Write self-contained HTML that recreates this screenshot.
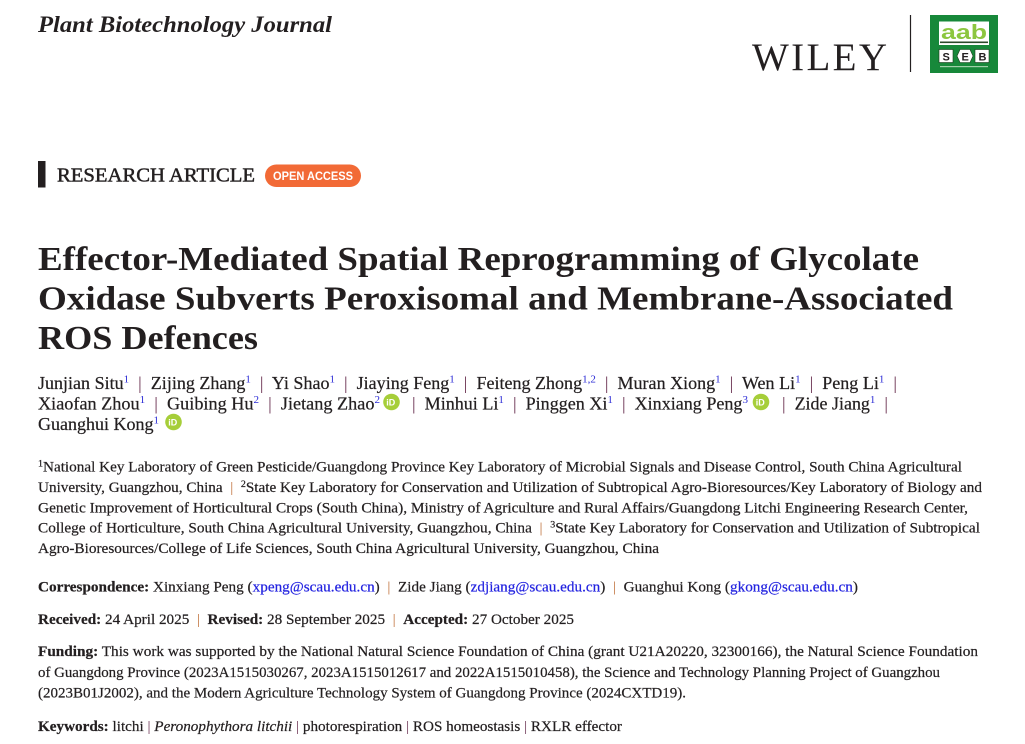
<!DOCTYPE html>
<html><head><meta charset="utf-8">
<style>
html,body{margin:0;padding:0;background:#fff;}
svg{display:block;}
text{font-family:"Liberation Serif",serif;fill:#231f20;white-space:pre;}
.w{stroke:#231f20;stroke-width:0.22;}
.sup{fill:#2b2bd6;stroke:none;}
.sep{fill:#6a3050;stroke:none;}
.osep{fill:#c0703a;stroke:none;}
.b{font-weight:bold;}
.lnk{fill:#2323e0;stroke:#2323e0;}
.sans{font-family:"Liberation Sans",sans-serif;}
</style></head><body>
<svg width="1025" height="744" viewBox="0 0 1025 744" xmlns="http://www.w3.org/2000/svg">
<rect width="1025" height="744" fill="#fff"/>

<!-- Journal name -->
<text x="38" y="32" font-size="23" font-weight="bold" font-style="italic" textLength="294" lengthAdjust="spacingAndGlyphs">Plant Biotechnology Journal</text>

<!-- WILEY -->
<text x="752" y="70" font-size="39" textLength="135" lengthAdjust="spacing">WILEY</text>
<line x1="910.5" y1="15" x2="910.5" y2="72" stroke="#231f20" stroke-width="1.2"/>

<!-- Logo -->
<rect x="930" y="15" width="68" height="58" fill="#17883a"/>
<rect x="939" y="21.5" width="50" height="23.5" fill="#fff"/>
<text class="sans" x="941" y="39" font-size="20" font-weight="bold" textLength="46" lengthAdjust="spacingAndGlyphs" style="fill:#8cc63f">aab</text>
<rect x="940" y="41.5" width="48" height="1.6" fill="#2a4a2a"/>
<rect x="939" y="49.5" width="14" height="13" fill="#fff" stroke="#1a3a1a" stroke-width="0.6"/>
<polygon points="957,56 960,49.5 970,49.5 973,56 970,62.5 960,62.5" fill="#fff" stroke="#1a3a1a" stroke-width="0.6"/>
<rect x="975" y="49.5" width="14" height="13" fill="#fff" stroke="#1a3a1a" stroke-width="0.6"/>
<text class="sans" x="942.5" y="60.5" font-size="11" font-weight="bold">S</text>
<text class="sans" x="961.5" y="60.5" font-size="11" font-weight="bold">E</text>
<text class="sans" x="978.5" y="60.5" font-size="11" font-weight="bold">B</text>
<rect x="940" y="66" width="48" height="1.2" fill="#9fd0a8"/>

<!-- Research article -->
<rect x="38" y="161" width="7.5" height="26.5" fill="#231f20"/>
<text x="57" y="181.5" font-size="20.5" textLength="198" lengthAdjust="spacingAndGlyphs" stroke="#231f20" stroke-width="0.5">RESEARCH ARTICLE</text>
<rect x="265" y="164.5" width="96" height="22.5" rx="11.25" fill="#f26a36"/>
<text class="sans" x="273" y="180" font-size="12" font-weight="bold" textLength="80" lengthAdjust="spacingAndGlyphs" style="fill:#fff">OPEN ACCESS</text>

<!-- Title -->
<text x="38" y="270" font-size="34" font-weight="bold" textLength="881" lengthAdjust="spacingAndGlyphs">Effector-Mediated Spatial Reprogramming of Glycolate</text>
<text x="38" y="309.5" font-size="34" font-weight="bold" textLength="915" lengthAdjust="spacingAndGlyphs">Oxidase Subverts Peroxisomal and Membrane-Associated</text>
<text x="38" y="349" font-size="34" font-weight="bold" textLength="220" lengthAdjust="spacingAndGlyphs">ROS Defences</text>

<!-- Authors -->
<text class="w" x="38" y="389" font-size="18" textLength="859" lengthAdjust="spacingAndGlyphs">Junjian Situ<tspan class="sup" font-size="11" dy="-6.5">1</tspan><tspan class="sep" dy="6.5">  |  </tspan>Zijing Zhang<tspan class="sup" font-size="11" dy="-6.5">1</tspan><tspan class="sep" dy="6.5">  |  </tspan>Yi Shao<tspan class="sup" font-size="11" dy="-6.5">1</tspan><tspan class="sep" dy="6.5">  |  </tspan>Jiaying Feng<tspan class="sup" font-size="11" dy="-6.5">1</tspan><tspan class="sep" dy="6.5">  |  </tspan>Feiteng Zhong<tspan class="sup" font-size="11" dy="-6.5">1,2</tspan><tspan class="sep" dy="6.5">  |  </tspan>Muran Xiong<tspan class="sup" font-size="11" dy="-6.5">1</tspan><tspan class="sep" dy="6.5">  |  </tspan>Wen Li<tspan class="sup" font-size="11" dy="-6.5">1</tspan><tspan class="sep" dy="6.5">  |  </tspan>Peng Li<tspan class="sup" font-size="11" dy="-6.5">1</tspan><tspan class="sep" dy="6.5">  |</tspan></text>

<text class="w" x="38" y="409.5" font-size="18" textLength="342" lengthAdjust="spacingAndGlyphs">Xiaofan Zhou<tspan class="sup" font-size="11" dy="-6.5">1</tspan><tspan class="sep" dy="6.5">  |  </tspan>Guibing Hu<tspan class="sup" font-size="11" dy="-6.5">2</tspan><tspan class="sep" dy="6.5">  |  </tspan>Jietang Zhao<tspan class="sup" font-size="11" dy="-6.5">2</tspan></text>
<circle cx="391.5" cy="402" r="8.3" fill="#a6ce39"/>
<text class="sans" x="386.3" y="405.5" font-size="9" font-weight="bold" style="fill:#fff">iD</text>

<text class="w" x="412" y="409.5" font-size="18" textLength="336" lengthAdjust="spacingAndGlyphs"><tspan class="sep">|  </tspan>Minhui Li<tspan class="sup" font-size="11" dy="-6.5">1</tspan><tspan class="sep" dy="6.5">  |  </tspan>Pinggen Xi<tspan class="sup" font-size="11" dy="-6.5">1</tspan><tspan class="sep" dy="6.5">  |  </tspan>Xinxiang Peng<tspan class="sup" font-size="11" dy="-6.5">3</tspan></text>
<circle cx="761" cy="402" r="8.3" fill="#a6ce39"/>
<text class="sans" x="755.8" y="405.5" font-size="9" font-weight="bold" style="fill:#fff">iD</text>

<text class="w" x="782" y="409.5" font-size="18" textLength="106" lengthAdjust="spacingAndGlyphs"><tspan class="sep">|  </tspan>Zide Jiang<tspan class="sup" font-size="11" dy="-6.5">1</tspan><tspan class="sep" dy="6.5">  |</tspan></text>

<text class="w" x="38" y="430" font-size="18" textLength="121" lengthAdjust="spacingAndGlyphs">Guanghui Kong<tspan class="sup" font-size="11" dy="-6.5">1</tspan></text>
<circle cx="173.5" cy="422" r="8.3" fill="#a6ce39"/>
<text class="sans" x="168.3" y="425.5" font-size="9" font-weight="bold" style="fill:#fff">iD</text>

<!-- Affiliations -->
<text class="w" x="38" y="471.7" font-size="14.5" textLength="924" lengthAdjust="spacingAndGlyphs"><tspan font-size="9.5" dy="-5">1</tspan><tspan dy="5">National Key Laboratory of Green Pesticide/Guangdong Province Key Laboratory of Microbial Signals and Disease Control, South China Agricultural</tspan></text>
<text class="w" x="38" y="492" font-size="14.5" textLength="944" lengthAdjust="spacingAndGlyphs">University, Guangzhou, China<tspan class="osep">  |  </tspan><tspan font-size="9.5" dy="-5">2</tspan><tspan dy="5">State Key Laboratory for Conservation and Utilization of Subtropical Agro-Bioresources/Key Laboratory of Biology and</tspan></text>
<text class="w" x="38" y="512.3" font-size="14.5" textLength="930" lengthAdjust="spacingAndGlyphs">Genetic Improvement of Horticultural Crops (South China), Ministry of Agriculture and Rural Affairs/Guangdong Litchi Engineering Research Center,</text>
<text class="w" x="38" y="532.6" font-size="14.5" textLength="942" lengthAdjust="spacingAndGlyphs">College of Horticulture, South China Agricultural University, Guangzhou, China<tspan class="osep">  |  </tspan><tspan font-size="9.5" dy="-5">3</tspan><tspan dy="5">State Key Laboratory for Conservation and Utilization of Subtropical</tspan></text>
<text class="w" x="38" y="553" font-size="14.5" textLength="621" lengthAdjust="spacingAndGlyphs">Agro-Bioresources/College of Life Sciences, South China Agricultural University, Guangzhou, China</text>

<!-- Correspondence -->
<text class="w" x="38" y="591.7" font-size="15" textLength="820" lengthAdjust="spacingAndGlyphs"><tspan class="b">Correspondence:</tspan> Xinxiang Peng (<tspan class="lnk">xpeng@scau.edu.cn</tspan>)<tspan class="osep">  |  </tspan>Zide Jiang (<tspan class="lnk">zdjiang@scau.edu.cn</tspan>)<tspan class="osep">  |  </tspan>Guanghui Kong (<tspan class="lnk">gkong@scau.edu.cn</tspan>)</text>

<!-- Dates -->
<text class="w" x="38" y="624" font-size="15" textLength="536" lengthAdjust="spacingAndGlyphs"><tspan class="b">Received:</tspan> 24 April 2025<tspan class="osep">  |  </tspan><tspan class="b">Revised:</tspan> 28 September 2025<tspan class="osep">  |  </tspan><tspan class="b">Accepted:</tspan> 27 October 2025</text>

<!-- Funding -->
<text class="w" x="38" y="656" font-size="15" textLength="940" lengthAdjust="spacingAndGlyphs"><tspan class="b">Funding:</tspan> This work was supported by the National Natural Science Foundation of China (grant U21A20220, 32300166), the Natural Science Foundation</text>
<text class="w" x="38" y="676.8" font-size="15" textLength="902" lengthAdjust="spacingAndGlyphs">of Guangdong Province (2023A1515030267, 2023A1515012617 and 2022A1515010458), the Science and Technology Planning Project of Guangzhou</text>
<text class="w" x="38" y="697.6" font-size="15" textLength="648" lengthAdjust="spacingAndGlyphs">(2023B01J2002), and the Modern Agriculture Technology System of Guangdong Province (2024CXTD19).</text>

<!-- Keywords -->
<text class="w" x="38" y="731" font-size="15" textLength="584" lengthAdjust="spacingAndGlyphs"><tspan class="b">Keywords:</tspan> litchi <tspan class="sep">|</tspan> <tspan font-style="italic">Peronophythora litchii</tspan> <tspan class="sep">|</tspan> photorespiration <tspan class="sep">|</tspan> ROS homeostasis <tspan class="sep">|</tspan> RXLR effector</text>
</svg>
</body></html>
